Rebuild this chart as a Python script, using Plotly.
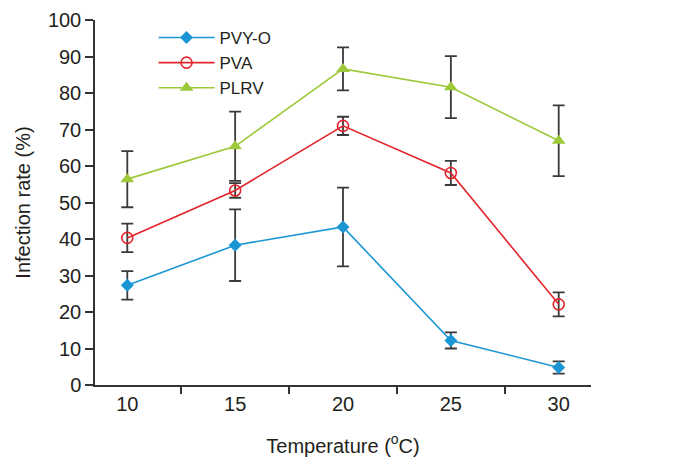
import plotly.graph_objects as go

temps = ["10", "15", "20", "25", "30"]

pvyo = [27.3, 38.3, 43.3, 12.2, 4.8]
pvyo_err = [3.9, 9.8, 10.8, 2.2, 1.7]

pva = [40.3, 53.3, 71.0, 58.1, 22.1]
pva_err = [3.9, 2.0, 2.5, 3.3, 3.3]

plrv = [56.4, 65.4, 86.6, 81.6, 66.9]
plrv_err = [7.7, 9.5, 5.9, 8.5, 9.7]

err_color = "#3a3a3a"
font = "Liberation Sans, Arial, Helvetica, sans-serif"

def err(e):
    return dict(type="data", array=e, visible=True, color=err_color, thickness=1.8, width=6)

fig = go.Figure()
fig.add_trace(go.Scatter(
    x=temps, y=pvyo, name="PVY-O", mode="lines+markers",
    line=dict(color="#1a96d4", width=1.6),
    marker=dict(symbol="diamond", size=10, color="#1a96d4"),
    error_y=err(pvyo_err)))
fig.add_trace(go.Scatter(
    x=temps, y=pva, name="PVA", mode="lines+markers",
    line=dict(color="#e2242b", width=1.6),
    marker=dict(symbol="circle-open", size=11, color="#e2242b", line=dict(width=1.6)),
    error_y=err(pva_err)))
fig.add_trace(go.Scatter(
    x=temps, y=plrv, name="PLRV", mode="lines+markers",
    line=dict(color="#9cc83a", width=1.6),
    marker=dict(symbol="triangle-up", size=12, color="#9cc83a"),
    error_y=err(plrv_err)))

fig.update_layout(
    width=670, height=461,
    margin=dict(l=87, r=87, t=12, b=84),
    paper_bgcolor="white", plot_bgcolor="white",
    font=dict(family=font, size=20, color="#231f20"),
    showlegend=True,
    legend=dict(x=0.118, y=1.0, xanchor="left", yanchor="top",
                bgcolor="rgba(0,0,0,0)", font=dict(size=17),
                itemwidth=56, tracegroupgap=0),
    xaxis=dict(
        type="category", tickson="boundaries", ticks="outside", ticklen=7,
        tickwidth=1.5, tickcolor="#333", showline=True, linecolor="#333",
        linewidth=1.5, showgrid=False, zeroline=False, automargin=False,
        tickfont=dict(size=20),
        title=dict(text="Temperature (<sup>o</sup>C)", font=dict(size=20), standoff=25),
    ),
    yaxis=dict(
        range=[0, 100], dtick=10, ticks="outside", ticklen=8, tickwidth=1.5,
        tickcolor="#333", showline=True, linecolor="#333", linewidth=1.5,
        showgrid=False, zeroline=False, automargin=False,
        tickfont=dict(size=20),
        title=dict(text="Infection rate (%)", font=dict(size=20), standoff=12),
    ),
)

fig.write_html("out.html")
